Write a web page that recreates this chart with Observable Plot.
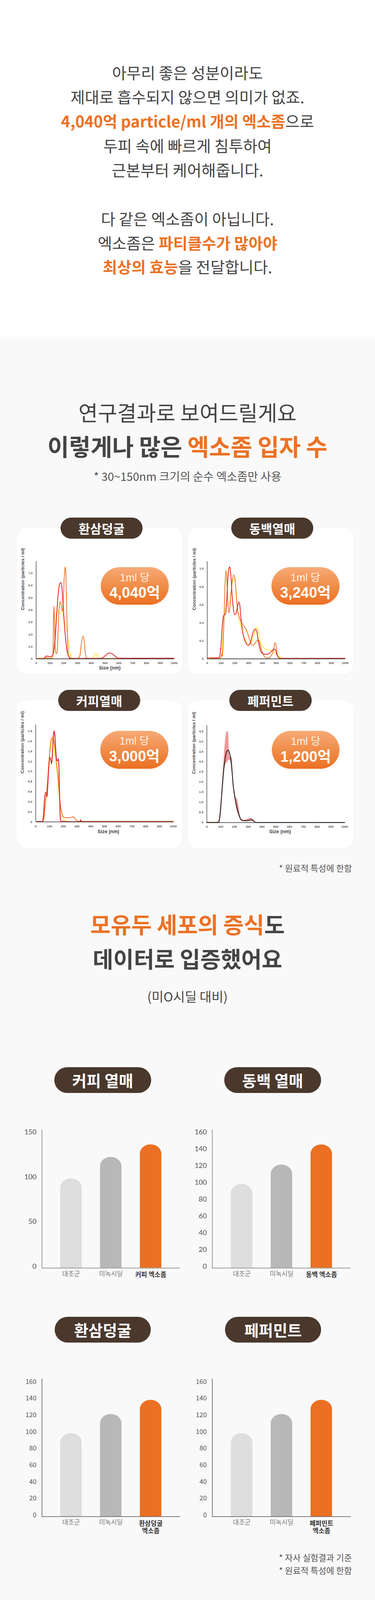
<!DOCTYPE html>
<html><head><meta charset="utf-8">
<script src="https://cdn.jsdelivr.net/npm/d3@7"></script>
<script src="https://cdn.jsdelivr.net/npm/@observablehq/plot@0.6"></script>
<style>
:root{--k:0.866;}
html,body{margin:0;padding:0;}
html{background:#f9f9f9;}
body{width:960px;height:calc(4724px*var(--k));position:relative;background:#f9f9f9;font-family:"Noto Sans CJK KR","Noto Sans",sans-serif;overflow:hidden;}
.top-bg{position:absolute;left:0;top:0;width:960px;height:calc(995px*var(--k));background:#fff;}
.line{position:absolute;left:0;width:960px;text-align:center;white-space:nowrap;color:#444;height:80px;line-height:80px;}
.o{color:#ec7124;font-weight:700;}
.badge{position:absolute;background:#4a382d;color:#fff;font-weight:700;border-radius:999px;display:flex;align-items:center;justify-content:center;white-space:nowrap;}
.card{position:absolute;background:#fff;border-radius:26px;box-shadow:0 1px 8px rgba(0,0,0,0.025);}
.pill{position:absolute;border-radius:999px;background:linear-gradient(180deg,#f7aa77 0%,#f08a45 55%,#eb6f22 100%);color:#fff;box-shadow:0 2px 6px rgba(200,90,20,0.12);font-family:"Liberation Sans","Noto Sans CJK KR",sans-serif;}
.pill .s{position:absolute;left:0;width:100%;text-align:center;top:calc(33px*var(--k) - 17px);height:30px;line-height:30px;font-size:27px;font-weight:400;color:#fff4ea;white-space:nowrap;}
.pill .b{position:absolute;left:0;width:100%;text-align:center;top:calc(73px*var(--k) - 19px);height:42px;line-height:42px;font-size:38px;font-weight:700;white-space:nowrap;}
.note{position:absolute;right:59px;font-size:22px;color:#555;white-space:nowrap;height:30px;line-height:30px;}
.chart{position:absolute;}
.chart svg{display:block;}
</style>
</head>
<body>
<div class="top-bg"></div>

<div class="line" style="top:calc(214px*var(--k) - 40px);font-size:40px">아무리 좋은 성분이라도</div>
<div class="line" style="top:calc(285px*var(--k) - 40px);font-size:40px">제대로 흡수되지 않으면 의미가 없죠.</div>
<div class="line" style="top:calc(357px*var(--k) - 40px);font-size:40px"><span class="o">4,040억 particle/ml 개의 엑소좀</span>으로</div>
<div class="line" style="top:calc(429px*var(--k) - 40px);font-size:40px">두피 속에 빠르게 침투하여</div>
<div class="line" style="top:calc(501px*var(--k) - 40px);font-size:40px">근본부터 케어해줍니다.</div>
<div class="line" style="top:calc(645px*var(--k) - 40px);font-size:40px">다 같은 엑소좀이 아닙니다.</div>
<div class="line" style="top:calc(717px*var(--k) - 40px);font-size:40px">엑소좀은 <span class="o">파티클수가 많아야</span></div>
<div class="line" style="top:calc(788px*var(--k) - 40px);font-size:40px"><span class="o">최상의 효능</span>을 전달합니다.</div>

<div class="line" style="top:calc(1218px*var(--k) - 40px);font-size:54px">연구결과로 보여드릴게요</div>
<div class="line" style="top:calc(1317px*var(--k) - 40px);font-size:60px;font-weight:700">이렇게나 많은 <span class="o">엑소좀 입자 수</span></div>
<div class="line" style="top:calc(1406px*var(--k) - 40px);font-size:29px;color:#555">* 30~150nm 크기의 순수 엑소좀만 사용</div>

<div class="card" style="left:43px;top:calc(1560px*var(--k));width:424px;height:calc(433px*var(--k))"><div class="chart" id="p1" style="left:0;top:0"></div></div>
<div class="card" style="left:480px;top:calc(1560px*var(--k));width:425px;height:calc(433px*var(--k))"><div class="chart" id="p2" style="left:0;top:0"></div></div>
<div class="card" style="left:42px;top:calc(2070px*var(--k));width:424px;height:calc(437px*var(--k))"><div class="chart" id="p3" style="left:0;top:0"></div></div>
<div class="card" style="left:480px;top:calc(2070px*var(--k));width:425px;height:calc(437px*var(--k))"><div class="chart" id="p4" style="left:0;top:0"></div></div>

<div class="badge" style="left:155px;top:calc(1530px*var(--k));width:210px;height:calc(62px*var(--k));font-size:32px">환삼덩굴</div>
<div class="badge" style="left:592px;top:calc(1530px*var(--k));width:210px;height:calc(62px*var(--k));font-size:32px">동백열매</div>
<div class="badge" style="left:149px;top:calc(2039px*var(--k));width:210px;height:calc(63px*var(--k));font-size:32px">커피열매</div>
<div class="badge" style="left:587px;top:calc(2039px*var(--k));width:211px;height:calc(63px*var(--k));font-size:32px">페퍼민트</div>

<div class="pill" style="left:258px;top:calc(1677px*var(--k));width:174px;height:calc(111px*var(--k))"><div class="s">1ml 당</div><div class="b">4,040억</div></div>
<div class="pill" style="left:695px;top:calc(1677px*var(--k));width:174px;height:calc(111px*var(--k))"><div class="s">1ml 당</div><div class="b">3,240억</div></div>
<div class="pill" style="left:257px;top:calc(2160px*var(--k));width:174px;height:calc(112px*var(--k))"><div class="s">1ml 당</div><div class="b">3,000억</div></div>
<div class="pill" style="left:696px;top:calc(2161px*var(--k));width:173px;height:calc(111px*var(--k))"><div class="s">1ml 당</div><div class="b">1,200억</div></div>

<div class="note" style="top:calc(2565px*var(--k) - 15px)">* 원료적 특성에 한함</div>

<div class="line" style="top:calc(2730px*var(--k) - 40px);font-size:57px;font-weight:700"><span class="o">모유두 세포의 증식</span>도</div>
<div class="line" style="top:calc(2831px*var(--k) - 40px);font-size:57px;font-weight:700">데이터로 입증했어요</div>
<div class="line" style="top:calc(2944px*var(--k) - 40px);font-size:33px">(미O시딜 대비)</div>

<div class="badge" style="left:139px;top:calc(3155px*var(--k));width:248px;height:calc(76px*var(--k));font-size:40px">커피 열매</div>
<div class="badge" style="left:574px;top:calc(3155px*var(--k));width:248px;height:calc(76px*var(--k));font-size:40px">동백 열매</div>
<div class="badge" style="left:140px;top:calc(3893px*var(--k));width:246px;height:calc(76px*var(--k));font-size:40px">환삼덩굴</div>
<div class="badge" style="left:576px;top:calc(3893px*var(--k));width:246px;height:calc(76px*var(--k));font-size:40px">페퍼민트</div>

<div class="chart" id="b1" style="left:60px;top:calc(3320px*var(--k))"></div>
<div class="chart" id="b2" style="left:490px;top:calc(3320px*var(--k))"></div>
<div class="chart" id="b3" style="left:60px;top:calc(4050px*var(--k))"></div>
<div class="chart" id="b4" style="left:490px;top:calc(4050px*var(--k))"></div>

<div class="note" style="top:calc(4603px*var(--k) - 15px)">* 자사 실험결과 기준</div>
<div class="note" style="top:calc(4641px*var(--k) - 15px)">* 원료적 특성에 한함</div>

<script>
// ---------------- DATA ----------------
// particle size distribution (x = size nm, y = concentration)
const hsOrange = [[0,0.02],[20,0.02],[60,0.03],[75,0.1],[90,0.03],[115,0.03],[122,0.5],[127,3.8],[129,4.3],[132,3.5],[137,1.2],[143,0.5],[150,0.42],[156,1.2],[163,3.5],[172,4.6],[177,4.68],[183,4.3],[190,3.9],[196,4.5],[203,6.5],[209,7.4],[212,7.52],[216,6.8],[222,4.0],[228,1.5],[235,0.2],[245,0.03],[300,0.03],[318,0.3],[330,1.4],[340,1.85],[348,1.5],[356,0.6],[365,0.08],[380,0.03],[1000,0.03]];
const hsRed = [[20,0.02],[55,0.03],[65,0.15],[75,0.23],[85,0.22],[95,0.18],[110,0.2],[120,0.3],[130,0.8],[140,2.0],[150,3.8],[160,5.3],[170,6.1],[179,6.25],[186,5.9],[195,4.5],[205,2.8],[215,1.5],[225,0.6],[238,0.15],[255,0.04],[300,0.03],[470,0.04],[490,0.15],[510,0.35],[530,0.48],[545,0.45],[565,0.3],[585,0.1],[600,0.05],[1000,0.05]];
const hsYellow = [[0,0.02],[15,0.03],[25,0.12],[35,0.03],[65,0.05],[75,0.12],[88,0.06],[110,0.08],[125,0.4],[135,1.5],[145,3.4],[152,4.0],[158,3.95],[166,3.7],[172,3.7],[180,3.85],[188,3.9],[196,3.5],[205,3.1],[215,2.7],[225,2.2],[235,1.3],[245,0.5],[258,0.1],[270,0.03],[410,0.03],[422,0.25],[433,0.48],[443,0.3],[455,0.03],[1000,0.03]];

const dbOrange = [[0,0.01],[90,0.01],[100,0.02],[106,0.06],[110,0.03],[115,0.15],[122,0.45],[130,0.85],[137,0.98],[143,0.85],[150,0.62],[157,0.51],[163,0.55],[172,0.72],[182,0.87],[192,0.93],[200,0.9],[210,0.72],[220,0.55],[235,0.45],[250,0.4],[265,0.37],[280,0.33],[294,0.28],[310,0.2],[322,0.16],[332,0.15],[345,0.17],[360,0.2],[372,0.21],[382,0.17],[395,0.09],[410,0.04],[430,0.01],[445,0.01],[465,0.04],[480,0.09],[488,0.16],[493,0.18],[500,0.14],[507,0.06],[515,0.02],[530,0.005],[1000,0.005]];
const dbRed = [[20,0.01],[80,0.01],[90,0.03],[100,0.15],[110,0.38],[117,0.47],[125,0.49],[133,0.5],[140,0.62],[150,0.9],[158,1.01],[164,1.02],[170,0.95],[180,0.72],[190,0.55],[200,0.49],[208,0.5],[220,0.58],[230,0.63],[236,0.6],[245,0.45],[255,0.32],[265,0.24],[280,0.18],[295,0.15],[310,0.17],[325,0.25],[340,0.32],[350,0.33],[360,0.3],[370,0.2],[385,0.1],[400,0.06],[425,0.05],[450,0.06],[470,0.09],[485,0.11],[495,0.1],[505,0.05],[515,0.02],[530,0.005],[1000,0.005]];
const dbYellow = [[0,0.005],[95,0.005],[105,0.04],[115,0.3],[125,0.5],[135,0.57],[148,0.6],[160,0.62],[170,0.7],[182,0.85],[195,0.89],[205,0.82],[215,0.65],[225,0.5],[235,0.42],[250,0.33],[265,0.25],[280,0.2],[300,0.16],[315,0.17],[330,0.22],[345,0.3],[358,0.35],[368,0.33],[380,0.22],[395,0.15],[415,0.12],[440,0.1],[470,0.09],[490,0.07],[510,0.04],[530,0.02],[560,0.003],[1000,0.003]];

const cfOrange = [[10,0.01],[50,0.01],[58,0.05],[68,0.3],[80,0.6],[92,1.0],[102,1.35],[112,1.6],[120,1.68],[128,1.65],[138,1.5],[150,1.2],[160,0.95],[170,0.6],[178,0.35],[188,0.2],[200,0.1],[225,0.08],[250,0.08],[270,0.1],[285,0.07],[300,0.02],[320,0.01],[1000,0.01]];
const cfYellow = [[50,0.0],[58,0.05],[70,0.35],[85,0.8],[98,1.3],[108,1.6],[116,1.65],[125,1.6],[135,1.45],[148,1.15],[160,0.85],[170,0.55],[180,0.3],[190,0.15],[200,0.06],[215,0.02],[240,0.0],[1000,0.0]];
const cfRed = [[10,0.0],[48,0.0],[55,0.1],[63,0.4],[70,0.58],[76,0.58],[82,0.5],[88,0.75],[95,1.1],[102,1.28],[108,1.25],[114,1.15],[120,1.3],[127,1.65],[133,1.8],[138,1.75],[145,1.45],[152,1.23],[158,1.21],[164,1.25],[168,1.15],[173,0.6],[178,0.1],[183,0.01],[320,0.0],[327,0.04],[333,0.0],[1000,0.0]];

const pmX    = [0, 60, 75, 85, 95, 105, 115, 125, 135, 145, 155, 163, 173, 182, 191, 200, 210, 220, 230, 240, 250, 260, 275, 290, 305, 320, 330, 340, 350, 360, 380, 500, 1000];
const pmMean = [0, 0, 0, 0.01, 0.3, 1.1, 2.0, 2.75, 3.25, 3.52, 3.57, 3.45, 3.15, 2.6, 1.85, 1.4, 1.0, 0.68, 0.44, 0.25, 0.13, 0.1, 0.09, 0.09, 0.11, 0.13, 0.12, 0.07, 0.02, 0, 0, 0, 0];
const pmLow  = [0, 0, 0, 0, 0.2, 0.95, 1.8, 2.55, 2.85, 2.95, 3.05, 3.1, 2.95, 2.45, 1.7, 1.25, 0.85, 0.55, 0.35, 0.18, 0.08, 0.06, 0.05, 0.05, 0.07, 0.08, 0.07, 0.04, 0.01, 0, 0, 0, 0];
const pmHigh = [0, 0, 0.02, 0.1, 0.55, 1.35, 2.35, 3.3, 4.1, 4.5, 4.45, 3.25, 3.22, 3.2, 2.1, 1.5, 1.22, 1.15, 0.85, 0.35, 0.15, 0.13, 0.14, 0.16, 0.2, 0.22, 0.2, 0.13, 0.04, 0, 0, 0, 0];
const pmBase = [[0,0],[85,0]];

const sizeTicks = [0,100,200,300,400,500,600,700,800,900,1000];
const hsTicks = [0,1,2,3,4,5,6,7];
const dbTicks = [0,0.2,0.4,0.6,0.8,1.0];
const cfTicks = [0,0.2,0.4,0.6,0.8,1.0,1.2,1.4,1.6,1.8];
const pmTicks = [0,0.5,1.0,1.5,2.0,2.5,3.0,3.5,4.0,4.5];

// bar charts (hair papilla cell proliferation)
const groupCats = ["대조군","미녹시딜"];
const coffeeCats = [...groupCats, "커피 엑소좀"];
const camelliaCats = [...groupCats, "동백 엑소좀"];
const hwansamCats = [...groupCats, "환삼덩굴\n엑소좀"];
const pepperCats = [...groupCats, "페퍼민트\n엑소좀"];
const coffeeVals = [100, 124, 138];
const camelliaVals = [100, 123, 147];
const hwansamVals = [100, 123, 140];
const pepperVals = [100, 123, 140];
const coffeeTicks = [0,50,100,150];
const ticks160 = [0,20,40,60,80,100,120,140,160];
const barColors = ["#dedede","#b8b8b8","#ec7023"];

// ---------------- CHARTS ----------------
// vertical layout factor (must match --k in the CSS)
const K = 0.866;
document.documentElement.style.setProperty("--k", K);
const ORANGE = "#e8782f", RED = "#e4232b", YELLOW = "#fdea3a";
const yLab = "Concentration (particles / ml)";

function particleChart(el, o) {
  const marks = [];
  if (o.band) marks.push(Plot.areaY(o.band, {x: "x", y1: "lo", y2: "hi", fill: "#ef8585", fillOpacity: 0.85, curve: "monotone-x"}));
  for (const s of o.series) marks.push(Plot.line(s.data, {x: d => d[0], y: d => d[1], stroke: s.color, strokeWidth: s.w || 2, curve: "monotone-x"}));
  marks.push(Plot.ruleX([0], {stroke: "#333", strokeWidth: 1.3}));
  marks.push(Plot.ruleY([0], {stroke: "#333", strokeWidth: 1.6}));
  marks.push(Plot.axisY(o.yTicks, {tickSize: 0, tickPadding: 9, label: null, tickFormat: d => d === 0 ? "0" : d.toFixed(1), fontSize: 8, fontWeight: 700, fill: "#555"}));
  marks.push(Plot.axisX(sizeTicks, {tickSize: 0, tickPadding: 8, label: null, tickFormat: d => String(d), fontSize: 8, fontWeight: 700, fill: "#555"}));
  marks.push(Plot.text([yLab], {text: d => d, frameAnchor: "left", rotate: -90, dx: o.yLabDx, fontSize: 11.5, fontWeight: 700, fill: "#444"}));
  if (o.sizeLabel) marks.push(Plot.text(["Size (nm)"], {text: d => d, frameAnchor: "bottom", dx: o.sizeDx, dy: o.sizeDy * K, fontSize: 12.5, fontWeight: 700, fill: "#444"}));
  const svg = Plot.plot({
    width: o.w, height: Math.round(o.h * K),
    marginLeft: o.mL, marginRight: o.mR, marginTop: o.mT * K, marginBottom: o.mB * K,
    x: {domain: [0, 1000]},
    y: {domain: [0, o.yMax]},
    style: {background: "transparent", fontFamily: "'Liberation Sans', Arial, sans-serif", overflow: "visible"},
    marks
  });
  document.getElementById(el).appendChild(svg);
}

particleChart("p1", {w: 424, h: 433, mL: 49, mR: 22, mT: 99, mB: 46, yMax: 7.97, yTicks: hsTicks, yLabDx: -34,
  series: [{data: hsYellow, color: YELLOW}, {data: hsOrange, color: ORANGE}, {data: hsRed, color: RED}],
  sizeLabel: true, sizeDx: 12, sizeDy: 31});
particleChart("p2", {w: 425, h: 433, mL: 50, mR: 22, mT: 99, mB: 46, yMax: 1.081, yTicks: dbTicks, yLabDx: -33,
  series: [{data: dbYellow, color: YELLOW}, {data: dbOrange, color: ORANGE}, {data: dbRed, color: RED}],
  sizeLabel: false});
particleChart("p3", {w: 424, h: 437, mL: 49, mR: 23, mT: 72, mB: 78, yMax: 1.921, yTicks: cfTicks, yLabDx: -34,
  series: [{data: cfYellow, color: YELLOW}, {data: cfOrange, color: ORANGE}, {data: cfRed, color: RED, w: 2.3}],
  sizeLabel: true, sizeDx: 10, sizeDy: 33});
const pmBand = pmX.map((x, i) => ({x, lo: pmLow[i], hi: pmHigh[i]}));
particleChart("p4", {w: 425, h: 437, mL: 49, mR: 23, mT: 73, mB: 76, yMax: 4.795, yTicks: pmTicks, yLabDx: -33,
  band: pmBand,
  series: [{data: pmBase, color: "#d9641c", w: 2.5}, {data: pmX.map((x, i) => [x, pmMean[i]]), color: "#2e2424", w: 2.2}],
  sizeLabel: true, sizeDx: 11, sizeDy: 31});

function barChart(el, o) {
  const data = o.cats.map((c, i) => ({cat: c, value: o.vals[i], color: barColors[i], last: i === o.cats.length - 1}));
  const svg = Plot.plot({
    width: o.w, height: Math.round(o.h * K),
    marginLeft: o.mL, marginRight: o.mR, marginTop: o.mT * K, marginBottom: o.mB * K,
    x: {domain: o.cats, padding: 0.46, axis: null},
    y: {domain: [0, o.yTop], axis: null},
    style: {background: "transparent", fontFamily: o.tickFont, overflow: "visible"},
    marks: [
      Plot.barY(data, {x: "cat", y: "value", fill: "color", rx: 27.6, ry: 27.6 * K}),
      Plot.barY(data, {x: "cat", y1: 0, y2: d => d.value / 2, fill: "color"}),
      Plot.frame({anchor: "left", stroke: o.axisColor, strokeWidth: o.axisW}),
      Plot.ruleY([0], {stroke: o.axisColor, strokeWidth: o.axisW}),
      Plot.axisY(o.ticks, {tickSize: 0, tickPadding: 14, dy: -4, label: null, fontSize: o.tickSize, fill: "#555"}),
      Plot.text(data.filter(d => !d.last), {x: "cat", text: "cat", frameAnchor: "bottom", lineAnchor: "top", dy: 9, fontSize: 16.5, fill: "#777", fontFamily: "'Noto Sans CJK KR', sans-serif"}),
      Plot.text(data.filter(d => d.last), {x: "cat", text: "cat", frameAnchor: "bottom", lineAnchor: "top", dy: 9, lineHeight: 1.2, fontSize: 16.5, fontWeight: 700, fill: "#333", fontFamily: "'Noto Sans CJK KR', sans-serif"})
    ]
  });
  document.getElementById(el).appendChild(svg);
}

const topStyle = {w: 420, h: 500, mT: 20, mB: 72, axisColor: "#9a9a9a", axisW: 2, tickFont: "Lato, 'Noto Sans', sans-serif", tickSize: 18};
const botStyle = {w: 420, h: 500, mT: 26, mB: 67, axisColor: "#555", axisW: 1.5, tickFont: "'Noto Sans CJK KR', sans-serif", tickSize: 17};
barChart("b1", {...topStyle, mL: 47, mR: 19, cats: coffeeCats, vals: coffeeVals, yTop: 154.2, ticks: coffeeTicks});
barChart("b2", {...topStyle, mL: 53, mR: 12, cats: camelliaCats, vals: camelliaVals, yTop: 164.4, ticks: ticks160});
barChart("b3", {...botStyle, mL: 47, mR: 19, cats: hwansamCats, vals: hwansamVals, yTop: 165.3, ticks: ticks160});
barChart("b4", {...botStyle, mL: 53, mR: 12, cats: pepperCats, vals: pepperVals, yTop: 165.3, ticks: ticks160});
</script>
</body></html>
